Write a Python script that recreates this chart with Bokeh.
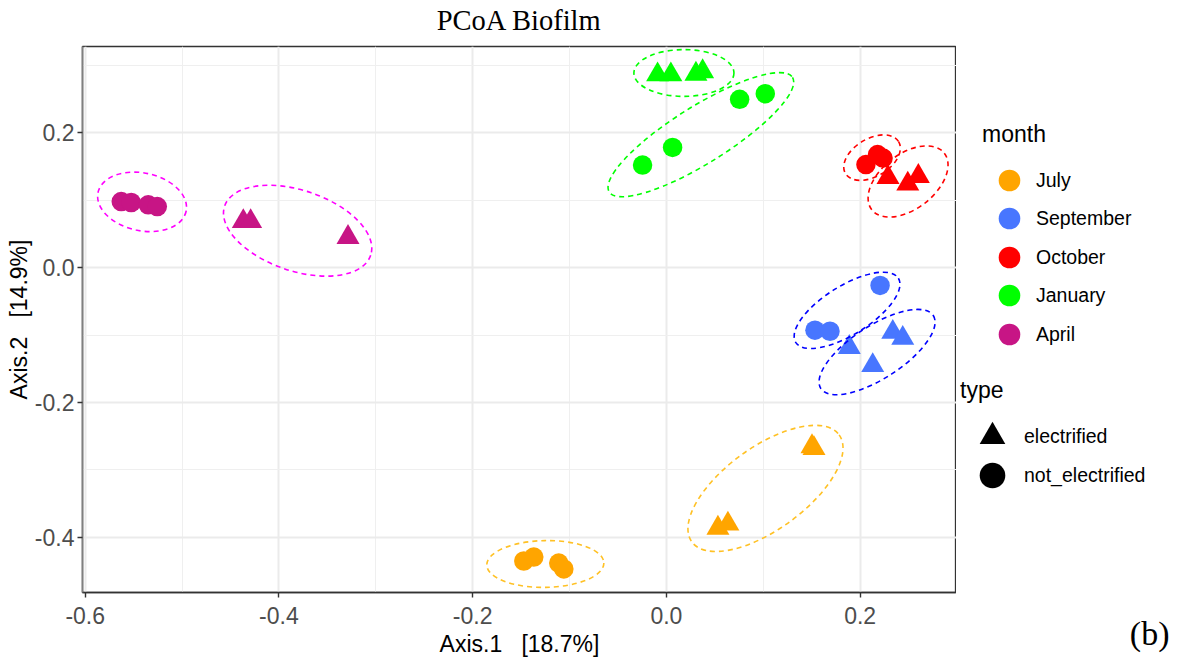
import math
from bokeh.plotting import figure
from bokeh.layouts import row
from bokeh.models import (Range1d, FixedTicker, Legend, LegendItem, NumeralTickFormatter,
                          ColumnDataSource, Title, LinearAxis, CustomJSTickFormatter)
from bokeh.embed import file_html
from bokeh.resources import INLINE

# ---------------- data ----------------
months = ["July", "September", "October", "January", "April"]
types = ["electrified", "not_electrified"]

sample_month = (["July"] * 8 + ["September"] * 7 + ["October"] * 6 +
                ["January"] * 8 + ["April"] * 7)
sample_type = (["electrified"] * 4 + ["not_electrified"] * 4 +
               ["electrified"] * 4 + ["not_electrified"] * 3 +
               ["electrified"] * 3 + ["not_electrified"] * 3 +
               ["electrified"] * 4 + ["not_electrified"] * 4 +
               ["electrified"] * 3 + ["not_electrified"] * 4)
axis1 = [0.1503, 0.1524, 0.0532, 0.0635, -0.1472, -0.1369, -0.1111, -0.1059,
         0.1888, 0.2130, 0.2337, 0.2440, 0.2206, 0.1534, 0.1689,
         0.2288, 0.2492, 0.2601, 0.2060, 0.2180, 0.2237,
         -0.0091, 0.0046, 0.0305, 0.0374, -0.0246, 0.0064, 0.0756, 0.1021,
         -0.4368, -0.4292, -0.3287, -0.5628, -0.5525, -0.5349, -0.5256]
axis2 = [-0.2653, -0.2680, -0.3862, -0.3800, -0.4350, -0.4291, -0.4380, -0.4468,
         -0.1180, -0.1449, -0.0956, -0.1045, -0.0263, -0.0927, -0.0942,
         0.1340, 0.1242, 0.1356, 0.1530, 0.1678, 0.1626,
         0.2863, 0.2863, 0.2873, 0.2910, 0.1523, 0.1784, 0.2497, 0.2581,
         0.0686, 0.0686, 0.0452, 0.0981, 0.0967, 0.0933, 0.0907]

# 95% ellipses per month x type (centre, axes, angle in degrees)
ell_month = ["July", "July", "September", "September", "October", "October",
             "January", "January", "April", "April"]
ell_type = ["not_electrified", "electrified"] * 5
ell_cx = [-0.1250, 0.1023, 0.1865, 0.2175, 0.2123, 0.2495, 0.0356, 0.0181, -0.5413, -0.3807]
ell_cy = [-0.4394, -0.3273, -0.0632, -0.1251, 0.1633, 0.1279, 0.1973, 0.2888, 0.0977, 0.0549]
ell_w = [0.1209, 0.1880, 0.1250, 0.1384, 0.0640, 0.0950, 0.2231, 0.1033, 0.0930, 0.1591]
ell_h = [0.0694, 0.1225, 0.0723, 0.0782, 0.0560, 0.0812, 0.0841, 0.0694, 0.0856, 0.1195]
ell_angle = [1, 36, 32, 33, 31, 38, 32, 0, -12, -18.6]

x_ticks = [-0.6, -0.4, -0.2, 0.0, 0.2]
x_minor = [-0.5, -0.3, -0.1, 0.1]
y_ticks = [-0.4, -0.2, 0.0, 0.2]
y_minor = [-0.3, -0.1, 0.1, 0.3]

title_text = "PCoA Biofilm"
NBSP = "\u00a0"
x_label = "Axis.1" + NBSP * 3 + "[18.7%]"
y_label = "Axis.2" + NBSP * 3 + "[14.9%]"
panel_tag = "(b)"

# ---------------- styles ----------------
point_colors = {"July": "#FFA500", "September": "#4876FF", "October": "#FF0000",
                "January": "#00FF00", "April": "#C71585"}
ellipse_colors = {"July": "#FFC125", "September": "#0000FF", "October": "#FF0000",
                  "January": "#00FF00", "April": "#FF00FF"}
markers = {"electrified": "triangle", "not_electrified": "circle"}
marker_sizes = {"electrified": 23, "not_electrified": 19.5}

SANS = "Liberation Sans"
SERIF = "Liberation Serif"
W_MAIN, W_SIDE, H = 956, 220, 659
B_TOP, B_BOTTOM = 46, 65


def spacer(px, at):
    # an invisible axis (one hidden tick, no label) that only reserves px pixels
    return LinearAxis(ticker=FixedTicker(ticks=[at]), major_tick_out=px, major_tick_in=0,
                      minor_tick_out=0, minor_tick_in=0, major_label_standoff=0,
                      formatter=CustomJSTickFormatter(code="return ''"),
                      axis_line_color=None, major_tick_line_color=None,
                      minor_tick_line_color=None)


p = figure(width=W_MAIN, height=H,
           x_range=Range1d(-0.6028, 0.2995), y_range=Range1d(-0.4817, 0.3281),
           output_backend="svg", toolbar_location=None,
           min_border_left=82, min_border_right=0, min_border_top=B_TOP, min_border_bottom=B_BOTTOM,
           background_fill_color="white", border_fill_color="white")
xax = p.below[0]
yax = p.left[0]

p.outline_line_color = "#333333"
p.outline_line_width = 1.3

for ax, ticks, minor, lab in ((xax, x_ticks, x_minor, x_label),
                              (yax, y_ticks, y_minor, y_label)):
    ax.ticker = FixedTicker(ticks=ticks, minor_ticks=minor)
    ax.formatter = NumeralTickFormatter(format="0.0")
    ax.axis_label = lab
    ax.axis_label_text_font = SANS
    ax.axis_label_text_font_size = "23px"
    ax.axis_label_text_font_style = "normal"
    ax.axis_label_text_color = "black"
    ax.major_label_text_font = SANS
    ax.major_label_text_font_size = "23px"
    ax.major_label_text_color = "#4D4D4D"
    ax.major_tick_line_color = "#333333"
    ax.major_tick_line_width = 1.4
    ax.major_tick_out = 5
    ax.major_tick_in = 0
    ax.minor_tick_line_color = None
xax.major_label_standoff = 9
xax.axis_label_standoff = 4
yax.major_label_standoff = 3
yax.axis_label_standoff = 0
xax.axis_line_color = "#333333"
xax.axis_line_width = 1.4
yax.axis_line_color = "#7F7F7F"
yax.axis_line_width = 1.8

for g in (p.xgrid[0], p.ygrid[0]):
    g.grid_line_color = "#EBEBEB"
    g.grid_line_width = 2
    g.minor_grid_line_color = "#EFEFEF"
    g.minor_grid_line_width = 1

p.add_layout(spacer(11, 0.0), "above")
p.add_layout(Title(text=title_text, align="center", text_font=SERIF, text_font_size="28.5px",
                   text_font_style="normal", text_color="black", standoff=0), "above")


def subset(month=None, typ=None):
    idx = [i for i in range(len(axis1))
           if (month is None or sample_month[i] == month) and (typ is None or sample_type[i] == typ)]
    return ColumnDataSource(dict(x=[axis1[i] for i in idx], y=[axis2[i] for i in idx]))


# points
for m in months:
    for t in types:
        p.scatter("x", "y", source=subset(m, t), marker=markers[t], size=marker_sizes[t],
                  fill_color=point_colors[m], line_color=None)

# ellipses
esrc = ColumnDataSource(dict(
    x=ell_cx, y=ell_cy, w=ell_w, h=ell_h,
    a=[math.radians(v) for v in ell_angle],
    c=[ellipse_colors[m] for m in ell_month]))
p.ellipse("x", "y", width="w", height="h", angle="a", source=esrc,
          fill_color=None, line_color="c", line_width=1.6, line_dash="5 4")

# ---------------- legend panel ----------------
# ranges far from the data, so the key renderers only feed the legends
q = figure(width=W_SIDE, height=H, x_range=Range1d(10, 11), y_range=Range1d(10, 11),
           output_backend="svg", toolbar_location=None,
           x_axis_location=None, y_axis_location=None,
           min_border_left=0, min_border_right=0, min_border_top=B_TOP, min_border_bottom=B_BOTTOM,
           background_fill_color="white", border_fill_color="white")
q.grid.visible = False
q.outline_line_color = None

month_r = [q.scatter("x", "y", source=subset(month=m), marker="circle", size=10,
                     fill_color=point_colors[m], line_color=None) for m in months]
type_r = [q.scatter("x", "y", source=subset(typ=t), marker=markers[t], size=10,
                    fill_color="black", line_color=None) for t in types]


def key(label, renderer, title, gsz, loc, lbl_standoff, title_standoff):
    lg = Legend(items=[LegendItem(label=label, renderers=[renderer])], location=loc)
    if title:
        lg.title = title
    lg.glyph_width = gsz
    lg.glyph_height = gsz
    lg.spacing = 0
    lg.label_standoff = lbl_standoff
    lg.padding = 0
    lg.margin = 0
    lg.border_line_color = None
    lg.background_fill_alpha = 0
    lg.label_text_font = SANS
    lg.label_text_font_size = "19.5px"
    lg.label_text_color = "black"
    lg.title_text_font = SANS
    lg.title_text_font_size = "23px"
    lg.title_text_font_style = "normal"
    lg.title_text_color = "black"
    lg.title_standoff = title_standoff
    q.add_layout(lg, "center")


month_bottoms = [385, 347, 308, 270, 231]
for i, (m, r) in enumerate(zip(months, month_r)):
    key(m, r, "month" if i == 0 else None, 54, (26, month_bottoms[i]), -3, 5)
type_bottoms = [124, 85]
for i, (t, r) in enumerate(zip(types, type_r)):
    key(t, r, "type" if i == 0 else None, 64, (4, type_bottoms[i]), 0, -5)

q.add_layout(spacer(20, 10.5), "below")
q.add_layout(Title(text=panel_tag, align="right", text_font=SERIF, text_font_size="34px",
                   text_font_style="normal", text_color="black", offset=7, standoff=0), "below")

layout = row(p, q, spacing=0)
open("out.html", "w").write(file_html(layout, INLINE))
